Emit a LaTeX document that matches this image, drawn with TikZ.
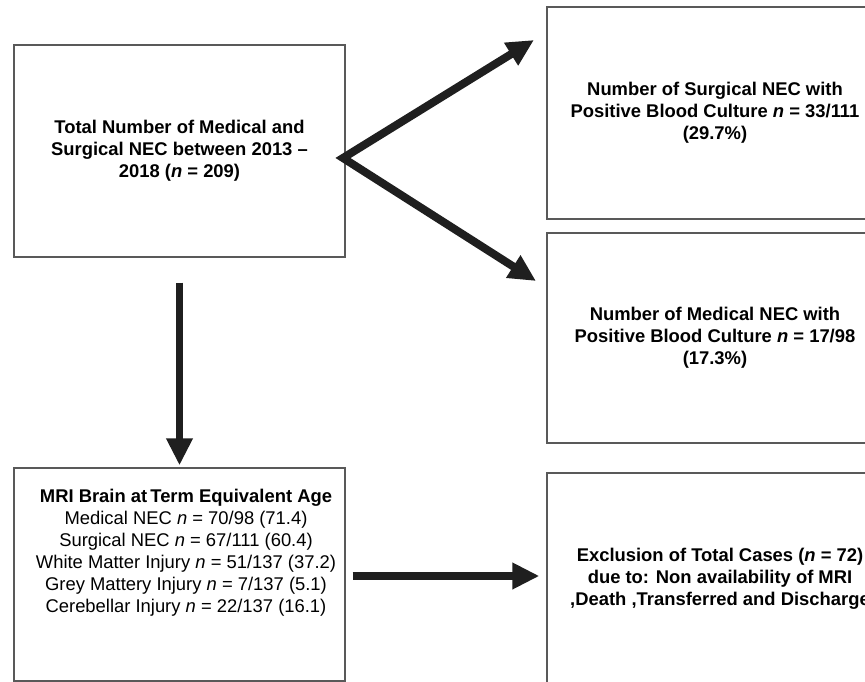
\documentclass[tikz,border=0pt]{standalone}
\usepackage{fontspec}
\setmainfont{Liberation Sans}
\usetikzlibrary{arrows.meta}
\tikzset{>={Triangle[length=27pt,width=25pt]}}
\tikzstyle{box}=[draw=black!65,line width=1.3,inner sep=0,align=center,
                 font=\fontsize{18.4}{22}\selectfont\bfseries]
\tikzstyle{flow}=[->,black!88,line width=7.5]
\newcommand{\nn}{\textit{n}}

\begin{document}
\begin{tikzpicture}[x=1pt,y=-1pt]
  \useasboundingbox (0,0) rectangle (865,682);
  \clip (0,0) rectangle (865,682);

  % BOXES
  \node[box,minimum width=331,minimum height=212] (total) at (179.5,151)
    {Total Number of Medical and\\Surgical NEC between 2013 --\\2018 (\nn{} = 209)};
  \node[box,minimum width=336,minimum height=212] (surg) at (715,113)
    {Number of Surgical NEC with\\Positive Blood Culture \nn{} = 33/111\\(29.7\%)};
  \node[box,minimum width=336,minimum height=210] (med) at (715,338)
    {Number of Medical NEC with\\Positive Blood Culture \nn{} = 17/98\\(17.3\%)};
  \node[box,minimum width=331,minimum height=213] (mri) at (179.5,574.5) {};
  \node[box,minimum width=346,minimum height=212] (excl) at (720,579)
    {Exclusion of Total Cases (\nn{} = 72)\\due to: Non availability of MRI\\,Death ,Transferred and Discharge};

  % MRI RESULTS
  \node[align=center,font=\fontsize{18.4}{22}\selectfont] (mritext) at (186,553)
    {\textbf{MRI Brain at\,Term Equivalent Age}\\
     Medical NEC \nn{} = 70/98 (71.4)\\
     Surgical NEC \nn{} = 67/111 (60.4)\\
     White Matter Injury \nn{} = 51/137 (37.2)\\
     Grey Mattery Injury \nn{} = 7/137 (5.1)\\
     Cerebellar Injury \nn{} = 22/137 (16.1)};

  % ARROWS
  \coordinate (fork) at (343,158);
  \coordinate (upTip) at (534,40);
  \coordinate (lowTip) at (536,281);
  \draw[flow,<->,line width=8,line join=miter] (upTip) -- (fork) -- (lowTip);
  \draw[flow] ([yshift=-25]total.south) -- ([yshift=2]mri.north);
  \draw[flow] ([xshift=7,yshift=-1.5]mri.east) -- ([xshift=-7,yshift=-1.5]excl.west|-mri.east);

\end{tikzpicture}
\end{document}
